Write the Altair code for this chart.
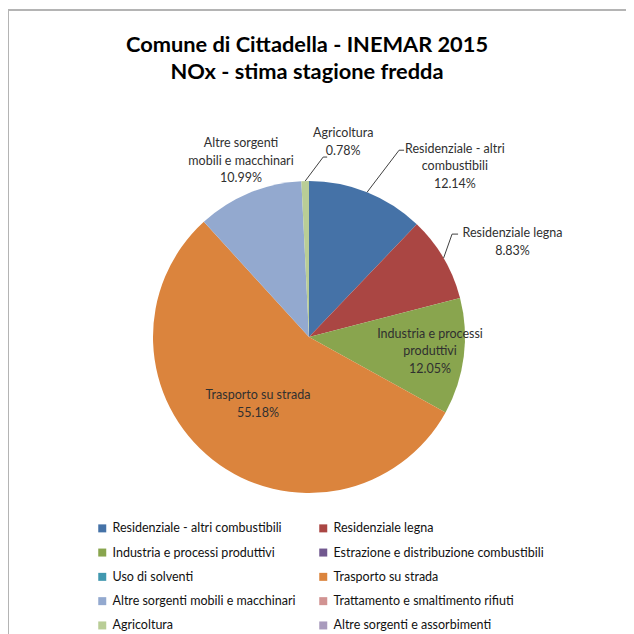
import math
import altair as alt
import pandas as pd

# ---- data ----
categories = [
    "Residenziale - altri combustibili",
    "Residenziale legna",
    "Industria e processi produttivi",
    "Estrazione e distribuzione combustibili",
    "Uso di solventi",
    "Trasporto su strada",
    "Altre sorgenti mobili e macchinari",
    "Trattamento e smaltimento rifiuti",
    "Agricoltura",
    "Altre sorgenti e assorbimenti",
]
values = [12.14, 8.83, 12.05, 0.0, 0.0, 55.18, 10.99, 0.0, 0.78, 0.0]
colors = ["#4572A7", "#AA4643", "#89A54E", "#71588F", "#4198AF",
          "#DB843D", "#93A9CF", "#D19392", "#B9CD96", "#A99BBD"]
label_names = {
    "Residenziale - altri combustibili": "Residenziale - altri\ncombustibili",
    "Residenziale legna": "Residenziale legna",
    "Industria e processi produttivi": "Industria e processi\nproduttivi",
    "Trasporto su strada": "Trasporto su strada",
    "Altre sorgenti mobili e macchinari": "Altre sorgenti\nmobili e macchinari",
    "Agricoltura": "Agricoltura",
}
title_lines = ["Comune di Cittadella - INEMAR 2015", "NOx - stima stagione fredda"]

# ---- layout / style ----
W, H = 618, 626
CX, CY, R = 301, 329, 156
FONT = "Lato"
LH = 17.8
# label placement: radius, dx, dy (dy before centring multi-line block)
label_style = {
    "Residenziale - altri combustibili": (185, 77, 1),
    "Residenziale legna": (200, 31, 6),
    "Industria e processi produttivi": (122, 0, -1),
    "Trasporto su strada": (84, 1, 1),
    "Altre sorgenti mobili e macchinari": (190, 5, -1),
    "Agricoltura": (196, 39, 1),
}
# leader lines: elbow offset from slice edge, horizontal tick length
leader_style = {
    "Agricoltura": (18, -24, 4),
    "Residenziale - altri combustibili": (32, -42, 5),
    "Residenziale legna": (8.5, -24, 6),
}

total = sum(values)
rows = []
cum = 0.0
for i, (c, v) in enumerate(zip(categories, values)):
    start, end = cum, cum + v
    cum = end
    lbl = label_names.get(c, c) + "\n" + f"{v:.2f}%"
    rows.append(dict(category=c, value=v, order=i, start=start, end=end,
                     mid=(start + end) / 2, label=lbl))
df = pd.DataFrame(rows)

# legend fills column by column: reorder so that it reads row by row
n_rows = (len(categories) + 1) // 2
leg_idx = [r * 2 for r in range(n_rows)] + [r * 2 + 1 for r in range(n_rows)]
leg_domain = [categories[i] for i in leg_idx if i < len(categories)]
leg_range = [colors[i] for i in leg_idx if i < len(categories)]

theta_scale = alt.Scale(domain=[0, total])
color_scale = alt.Scale(domain=leg_domain, range=leg_range)

pie = alt.Chart(df).mark_arc(stroke=None, outerRadius=R).encode(
    theta=alt.Theta("start:Q", scale=theta_scale),
    theta2="end:Q",
    color=alt.Color("category:N", scale=color_scale, sort=leg_domain,
                    legend=alt.Legend(
                        title=None, orient="none", legendX=88, legendY=514,
                        columns=2, columnPadding=21, rowPadding=11.3,
                        symbolType="square", symbolSize=64,
                        symbolStrokeWidth=0, labelFont=FONT,
                        labelFontSize=12.5, labelColor="#111111",
                        labelLimit=300, padding=0)),
    order=alt.Order("order:Q"),
    x=alt.value(CX), y=alt.value(CY),
)

layers = [pie]

for cat, (r, dx, dy) in label_style.items():
    n_lines = df.loc[df.category == cat, "label"].iloc[0].count("\n") + 1
    layers.append(
        alt.Chart(df).transform_filter(alt.datum.category == cat)
        .mark_text(radius=r, dx=dx, dy=dy - (n_lines - 1) * LH / 2,
                   lineBreak="\n", font=FONT,
                   fontSize=12.5, lineHeight=LH, color="#303030",
                   align="center", baseline="middle")
        .encode(theta=alt.Theta("mid:Q", scale=theta_scale),
                text="label:N", x=alt.value(CX), y=alt.value(CY))
    )

# leader lines derived from slice mid-angles
lrows = []
for cat, (ex, ey, tick) in leader_style.items():
    rec = df[df.category == cat].iloc[0]
    ang = rec["mid"] / total * 2 * math.pi
    sx, sy = CX + R * math.sin(ang), CY - R * math.cos(ang)
    pts = [(sx, sy), (sx + ex, sy + ey), (sx + ex + tick, sy + ey)]
    for k, (px, py) in enumerate(pts):
        lrows.append(dict(category=cat, k=k, px=px, py=py))
ldf = pd.DataFrame(lrows)
leaders = alt.Chart(ldf).mark_line(color="#404040", strokeWidth=1).encode(
    x=alt.X("px:Q", scale=None, axis=None),
    y=alt.Y("py:Q", scale=None, axis=None),
    detail="category:N", order="k:Q",
)
layers.append(leaders)

# titles
for i, t in enumerate(title_lines):
    layers.append(
        alt.Chart(pd.DataFrame({"t": [t]})).mark_text(
            font=FONT, fontSize=21.8, fontWeight="bold", color="#000000",
            align="center", baseline="middle")
        .encode(text="t:N", x=alt.value(299), y=alt.value(37 + 27 * i))
    )

# chart frame (left and top border)
frame_df = pd.DataFrame({"a": [0]})
layers.append(alt.Chart(frame_df).mark_rule(color="#B4B4B4", strokeWidth=2).encode(
    x=alt.value(0), y=alt.value(2), y2=alt.value(H)))
layers.append(alt.Chart(frame_df).mark_rule(color="#B4B4B4", strokeWidth=2).encode(
    x=alt.value(0), x2=alt.value(W), y=alt.value(2)))

chart = alt.layer(*layers).properties(
    width=W, height=H, autosize=alt.AutoSizeParams(type="none"),
    padding=0, background="white",
).configure_view(stroke=None)

chart.save("out.html", embed_options={"renderer": "svg", "actions": False})
